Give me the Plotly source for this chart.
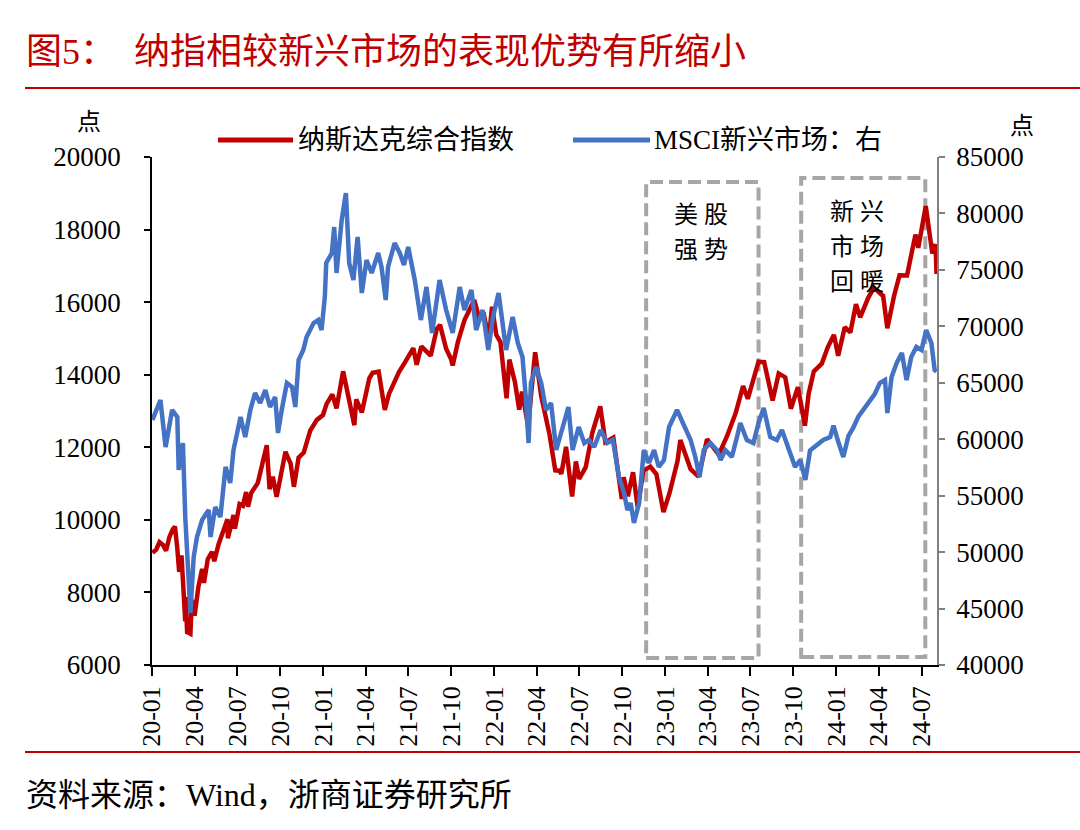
import plotly.graph_objects as go

# ---------------- data ----------------
nasdaq_dates = [
    "2020-01-02","2020-01-10","2020-01-17","2020-01-24","2020-01-31","2020-02-07","2020-02-14","2020-02-19",
    "2020-02-24","2020-02-28","2020-03-04","2020-03-09","2020-03-12","2020-03-13","2020-03-16","2020-03-20",
    "2020-03-23","2020-03-26","2020-04-01","2020-04-09","2020-04-17","2020-04-21","2020-04-29","2020-05-08",
    "2020-05-13","2020-05-22","2020-06-05","2020-06-10","2020-06-11","2020-06-23","2020-06-26","2020-07-06",
    "2020-07-13","2020-07-20","2020-07-24","2020-07-31","2020-08-14","2020-08-28","2020-09-02","2020-09-08",
    "2020-09-15","2020-09-23","2020-10-12","2020-10-23","2020-10-30","2020-11-09","2020-11-20","2020-12-04",
    "2020-12-18","2020-12-31","2021-01-08","2021-01-20","2021-01-29","2021-02-12","2021-02-26","2021-03-08",
    "2021-03-12","2021-03-24","2021-04-09","2021-04-16","2021-04-29","2021-05-12","2021-05-21","2021-06-11",
    "2021-06-25","2021-07-12","2021-07-19","2021-07-29","2021-08-18","2021-08-31","2021-09-07","2021-09-20",
    "2021-09-30","2021-10-04","2021-10-15","2021-10-29","2021-11-19","2021-11-30","2021-12-10","2021-12-20",
    "2021-12-27","2022-01-05","2022-01-14","2022-01-27","2022-02-02","2022-02-14","2022-02-23","2022-03-01",
    "2022-03-14","2022-03-29","2022-04-11","2022-04-29","2022-05-11","2022-05-20","2022-05-24","2022-06-03",
    "2022-06-16","2022-06-24","2022-07-01","2022-07-15","2022-07-29","2022-08-15","2022-08-26","2022-09-12",
    "2022-09-30","2022-10-04","2022-10-13","2022-10-24","2022-11-03","2022-11-15","2022-11-30","2022-12-13",
    "2022-12-28","2023-01-10","2023-01-27","2023-02-02","2023-02-24","2023-03-13","2023-03-31","2023-04-25",
    "2023-05-12","2023-05-31","2023-06-16","2023-06-26","2023-07-19","2023-07-31","2023-08-18","2023-08-31",
    "2023-09-14","2023-09-26","2023-10-11","2023-10-26","2023-11-03","2023-11-14","2023-12-01","2023-12-14",
    "2023-12-27","2024-01-05","2024-01-19","2024-01-31","2024-02-12","2024-02-21","2024-03-08","2024-03-21",
    "2024-04-10","2024-04-19","2024-05-03","2024-05-15","2024-05-31","2024-06-18","2024-06-24","2024-07-10",
    "2024-07-17","2024-07-24","2024-07-31","2024-08-02",
]
nasdaq_values = [
    9092, 9178, 9389, 9315, 9150, 9520, 9731, 9817,
    9221, 8567, 9018, 7950, 7201, 7875, 6904, 6880,
    6860, 7797, 7360, 8153, 8650, 8263, 8914, 9121,
    8863, 9324, 9814, 10020, 9493, 10131, 9757, 10433,
    10390, 10767, 10363, 10745, 11019, 11695, 12056, 10847,
    11190, 10633, 11876, 11548, 10911, 11713, 11855, 12464,
    12755, 12888, 13202, 13457, 13070, 14095, 13192, 12609,
    13319, 12961, 13900, 14052, 14082, 13031, 13471, 14069,
    14360, 14733, 14275, 14778, 14525, 15259, 15374, 14713,
    14448, 14255, 14897, 15498, 16057, 15537, 15630, 14980,
    15871, 15100, 14894, 13352, 14417, 13790, 13037, 13532,
    12581, 14619, 13411, 12335, 11364, 11354, 11264, 12013,
    10646, 11608, 11128, 11452, 12391, 13128, 12142, 12266,
    10576, 11176, 10649, 11310, 10343, 11358, 11468, 11256,
    10213, 10742, 11621, 12201, 11395, 11189, 12222, 11799,
    12284, 12935, 13689, 13336, 14358, 14346, 13291, 14035,
    13926, 13063, 13659, 12596, 13478, 14094, 14305, 14762,
    15099, 14524, 15311, 15164, 15942, 15580, 16085, 16401,
    16170, 15282, 16156, 16742, 16735, 17862, 17497, 18647,
    17996, 17342, 17599, 16776,
]

msci_dates = [
    "2020-01-02","2020-01-19","2020-01-30","2020-02-13","2020-02-24","2020-02-27","2020-03-07","2020-03-12",
    "2020-03-23","2020-03-30","2020-04-06","2020-04-17","2020-05-01","2020-05-05","2020-05-15","2020-05-26",
    "2020-06-06","2020-06-16","2020-06-23","2020-07-08","2020-07-18","2020-07-29","2020-08-08","2020-08-19",
    "2020-08-30","2020-09-09","2020-09-20","2020-09-26","2020-10-04","2020-10-15","2020-10-26","2020-11-02",
    "2020-11-09","2020-11-19","2020-11-26","2020-12-11","2020-12-21","2020-12-28","2021-01-04","2021-01-07",
    "2021-01-19","2021-01-24","2021-01-29","2021-02-09","2021-02-18","2021-02-25","2021-03-06","2021-03-15",
    "2021-03-24","2021-04-03","2021-04-14","2021-04-28","2021-05-05","2021-05-14","2021-05-19","2021-06-02",
    "2021-06-13","2021-06-22","2021-07-01","2021-07-15","2021-07-28","2021-08-09","2021-08-21","2021-09-06",
    "2021-09-20","2021-10-04","2021-10-19","2021-10-29","2021-11-13","2021-11-23","2021-12-07","2021-12-19",
    "2021-12-29","2022-01-10","2022-01-26","2022-02-09","2022-02-20","2022-03-02","2022-03-09","2022-03-15",
    "2022-03-20","2022-03-31","2022-04-11","2022-04-21","2022-05-02","2022-05-13","2022-05-27","2022-06-08",
    "2022-06-17","2022-06-30","2022-07-12","2022-07-22","2022-08-02","2022-08-16","2022-08-30","2022-09-11",
    "2022-09-24","2022-10-05","2022-10-12","2022-10-19","2022-10-26","2022-11-06","2022-11-16","2022-11-27",
    "2022-12-08","2022-12-18","2022-12-29","2023-01-09","2023-01-26","2023-02-10","2023-02-24","2023-03-06",
    "2023-03-15","2023-03-24","2023-04-07","2023-04-21","2023-04-29","2023-05-09","2023-05-23","2023-06-03",
    "2023-06-10","2023-06-24","2023-07-08","2023-07-19","2023-07-30","2023-08-13","2023-08-27","2023-09-07",
    "2023-09-21","2023-10-05","2023-10-16","2023-10-27","2023-11-06","2023-11-20","2023-12-04","2023-12-19",
    "2023-12-26","2024-01-05","2024-01-16","2024-01-27","2024-02-06","2024-02-17","2024-02-28","2024-03-09",
    "2024-03-23","2024-04-03","2024-04-14","2024-04-19","2024-04-28","2024-05-09","2024-05-20","2024-05-30",
    "2024-06-09","2024-06-20","2024-07-01","2024-07-11","2024-07-22","2024-07-29","2024-08-02",
]
msci_values = [
    61700, 63475, 59312, 62589, 61969, 57274, 59666, 53111,
    44607, 49568, 51340, 52845, 53731, 51340, 53997, 53111,
    57540, 56123, 59046, 61969, 60197, 62589, 64095, 63209,
    64361, 62854, 63740, 60551, 62589, 64981, 64626, 62854,
    67018, 67904, 69056, 70296, 70561, 69676, 72599, 75611,
    76496, 78800, 74725, 79420, 81811, 75600, 74105, 77914,
    72953, 75876, 74725, 76496, 75256, 72333, 75256, 77382,
    76496, 75434, 77028, 74105, 70561, 73485, 69410, 74105,
    71447, 69410, 73485, 71447, 73219, 69676, 71447, 67904,
    70827, 72953, 67904, 70827, 68524, 67284, 63740, 59666,
    64981, 66398, 64981, 62589, 63209, 59046, 61083, 62854,
    59046, 61083, 59666, 59932, 59312, 60817, 59666, 59932,
    56654, 55237, 53731, 54351, 52580, 54351, 59046, 57894,
    59046, 57540, 58160, 61083, 62589, 61083, 59932, 58426,
    56654, 59046, 59666, 59046, 58160, 59046, 58426, 60197,
    61437, 59932, 59666, 61437, 62766, 60197, 59932, 60817,
    59046, 57540, 58160, 56388, 59000, 59500, 59932, 60197,
    61200, 59800, 58426, 60300, 61000, 62000, 62600, 63300,
    64000, 64981, 65247, 62323, 65513, 66753, 67639, 65247,
    67284, 68170, 67904, 69676, 68524, 66132, 66000,
]

tick_dates = ["2020-01-01","2020-04-01","2020-07-01","2020-10-01","2021-01-01","2021-04-01",
              "2021-07-01","2021-10-01","2022-01-01","2022-04-01","2022-07-01","2022-10-01",
              "2023-01-01","2023-04-01","2023-07-01","2023-10-01","2024-01-01","2024-04-01","2024-07-01"]
tick_labels = ["20-01","20-04","20-07","20-10","21-01","21-04","21-07","21-10","22-01","22-04",
               "22-07","22-10","23-01","23-04","23-07","23-10","24-01","24-04","24-07"]

series_names = ["纳斯达克综合指数", "MSCI新兴市场：右"]
title_text = "图5：\u00a0\u00a0纳指相较新兴市场的表现优势有所缩小"
source_text = "资料来源：Wind，浙商证券研究所"

# ---------------- styling ----------------
RED = "#C00000"
BLUE = "#4472C4"
GRAY = "#A6A6A6"
FONT = "Liberation Serif, Times New Roman, Noto Sans CJK SC, serif"

W, H = 1080, 830
L, R, T, B = 152, 937, 157, 665


def px(xp):
    return (xp - L) / (R - L)


def py(yp):
    return (B - yp) / (B - T)


fig = go.Figure()
fig.add_trace(go.Scatter(x=nasdaq_dates, y=nasdaq_values, mode="lines", name=series_names[0],
                         line=dict(color=RED, width=4.5), showlegend=False, yaxis="y"))
fig.add_trace(go.Scatter(x=msci_dates, y=msci_values, mode="lines", name=series_names[1],
                         line=dict(color=BLUE, width=4.5), showlegend=False, yaxis="y2"))

shapes = []
# dashed boxes (data coordinates)
for x0, x1, y0, y1 in [("2022-11-21", "2023-07-19", 6190, 19310),
                       ("2023-10-18", "2024-07-09", 6220, 19420)]:
    shapes.append(dict(type="rect", xref="x", yref="y", x0=x0, x1=x1, y0=y0, y1=y1,
                       line=dict(color=GRAY, width=4, dash="13px,6px"), layer="below"))
# title / footer rules
shapes.append(dict(type="line", xref="paper", yref="paper", x0=px(25), x1=px(1080),
                   y0=py(88), y1=py(88), line=dict(color=RED, width=2)))
shapes.append(dict(type="line", xref="paper", yref="paper", x0=px(25), x1=px(1080),
                   y0=py(752), y1=py(752), line=dict(color=RED, width=2)))
# legend samples
shapes.append(dict(type="line", xref="paper", yref="paper", x0=px(218), x1=px(293),
                   y0=py(140), y1=py(140), line=dict(color=RED, width=5)))
shapes.append(dict(type="line", xref="paper", yref="paper", x0=px(573), x1=px(650),
                   y0=py(140), y1=py(140), line=dict(color=BLUE, width=5)))

ann = []
ann.append(dict(text=title_text, x=px(24), y=py(52), xref="paper", yref="paper",
                xanchor="left", yanchor="middle", showarrow=False,
                font=dict(family=FONT, size=36, color=RED)))
ann.append(dict(text=source_text, x=px(24), y=py(795), xref="paper", yref="paper",
                xanchor="left", yanchor="middle", showarrow=False,
                font=dict(family=FONT, size=32, color="black")))
ann.append(dict(text=series_names[0], x=px(296), y=py(140), xref="paper", yref="paper",
                xanchor="left", yanchor="middle", showarrow=False,
                font=dict(family=FONT, size=27, color="black")))
ann.append(dict(text=series_names[1], x=px(652), y=py(140), xref="paper", yref="paper",
                xanchor="left", yanchor="middle", showarrow=False,
                font=dict(family=FONT, size=27, color="black")))
ann.append(dict(text="点", x=px(89), y=py(122), xref="paper", yref="paper",
                xanchor="center", yanchor="middle", showarrow=False,
                font=dict(family=FONT, size=24, color="black")))
ann.append(dict(text="点", x=px(1022), y=py(126), xref="paper", yref="paper",
                xanchor="center", yanchor="middle", showarrow=False,
                font=dict(family=FONT, size=24, color="black")))
for txt, xx, yy in [("美 股", 701, 215), ("强 势", 701, 250),
                    ("新 兴", 857, 212), ("市 场", 857, 247), ("回 暖", 857, 282)]:
    ann.append(dict(text=txt, x=px(xx), y=py(yy), xref="paper", yref="paper",
                    xanchor="center", yanchor="middle", showarrow=False,
                    font=dict(family=FONT, size=24, color="black")))

tickfont = dict(family=FONT, size=27, color="black")
xtickfont = dict(family=FONT, size=26, color="black")
fig.update_layout(
    width=W, height=H,
    margin=dict(l=L, r=W - R, t=T, b=H - B, pad=0),
    paper_bgcolor="white", plot_bgcolor="white",
    font=dict(family=FONT, size=24, color="black"),
    showlegend=False,
    shapes=shapes, annotations=ann,
    xaxis=dict(type="date", range=["2020-01-01", "2024-08-03"], tickvals=tick_dates,
               ticktext=tick_labels, tickangle=-90, ticks="outside", ticklen=9, tickwidth=1.5,
               tickcolor="black", showline=True, linecolor="black", linewidth=1.5,
               showgrid=False, zeroline=False, tickfont=xtickfont, automargin=False),
    yaxis=dict(range=[6000, 20000], dtick=2000, tick0=6000, tickformat="d", ticks="outside",
               ticklen=6, tickwidth=1.5, tickcolor="black", showline=True, linecolor="black",
               linewidth=1.5, showgrid=False, zeroline=False, tickfont=tickfont,
               ticklabelstandoff=18, automargin=False),
    yaxis2=dict(range=[40000, 85000], dtick=5000, tick0=40000, tickformat="d", overlaying="y",
                side="right", ticks="outside", ticklen=6, tickwidth=1.5, tickcolor="#808080",
                showline=True, linecolor="#808080", linewidth=1.5, showgrid=False,
                zeroline=False, tickfont=tickfont, ticklabelstandoff=6, automargin=False),
)

fig.write_html("out.html", config={"displayModeBar": False},
               post_script="document.body.style.margin='0px';"
               "document.body.style.overflow='hidden';")
